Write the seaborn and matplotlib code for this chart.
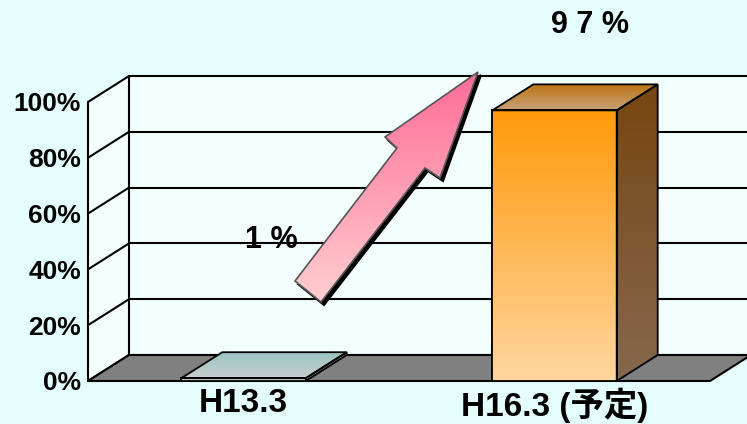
import numpy as np
import matplotlib
matplotlib.use("Agg")
import matplotlib.pyplot as plt
from matplotlib.patches import Polygon
from matplotlib.colors import LinearSegmentedColormap
import seaborn as sns

# ---- data ----
categories = ["H13.3", "H16.3 (予定)"]
values = [1, 97]
value_labels = ["1 %", "9 7 %"]
yticks = [0, 20, 40, 60, 80, 100]
ytick_labels = ["0%", "20%", "40%", "60%", "80%", "100%"]

sns.set_style("white")
plt.rcParams["font.family"] = ["Liberation Sans", "Noto Sans CJK JP", "DejaVu Sans"]
plt.rcParams["text.color"] = "black"
plt.rcParams["xtick.color"] = "black"
plt.rcParams["ytick.color"] = "black"

W, H = 747, 424
BG = "#E4FEFE"
WALL = "#F3FFFF"
fig = plt.figure(figsize=(W / 100, H / 100), dpi=100, facecolor=BG)

# pixel-coordinate layers
under = fig.add_axes([0, 0, 1, 1], zorder=0)
under.set_xlim(0, W); under.set_ylim(0, H); under.axis("off")
ax = fig.add_axes([88 / W, 43 / H, 622 / W, 279 / H], zorder=1)
ax.patch.set_alpha(0)
over = fig.add_axes([0, 0, 1, 1], zorder=2)
over.set_xlim(0, W); over.set_ylim(0, H); over.axis("off")

sns.barplot(x=categories, y=values, ax=ax, width=0.4, color="#ffffff",
            edgecolor="black", linewidth=1.3, zorder=3)
ax.set_xlim(-0.5, 1.5)
ax.set_ylim(0, 100)
for s in ax.spines.values():
    s.set_visible(False)
ax.set_yticks(yticks)
ax.set_yticklabels(ytick_labels, fontsize=19, fontweight="bold", color="black")
ax.tick_params(axis="y", length=0, pad=5)
ax.tick_params(axis="x", length=0, pad=5)
for t in ax.get_xticklabels():
    t.set_fontsize(24); t.set_fontweight("bold"); t.set_color("black")
ax.set_xlabel(""); ax.set_ylabel("")

D = np.array([41.0, 26.0])  # depth offset in pixels


def T(x, y):
    return ax.transData.transform((x, y))


def grad_poly(axis, verts, c_top, c_bot, z, ec="black", lw=1.3):
    verts = np.asarray(verts)
    poly = Polygon(verts, closed=True, facecolor="none", edgecolor=ec, lw=lw, zorder=z + 0.1)
    axis.add_patch(poly)
    cmap = LinearSegmentedColormap.from_list("g", [c_bot, c_top])
    x0, x1 = verts[:, 0].min(), verts[:, 0].max()
    y0, y1 = verts[:, 1].min(), verts[:, 1].max()
    grad = np.linspace(0, 1, 256).reshape(-1, 1)
    im = axis.imshow(grad, cmap=cmap, origin="lower", extent=(x0, x1, y0, y1),
                     aspect="auto", zorder=z, interpolation="bilinear")
    clip = Polygon(verts, closed=True, transform=axis.transData)
    im.set_clip_path(clip)
    return poly


# ---- walls, grid and floor ----
xl, xr = -0.5, 1.5
fl, fr = T(xl, 0), T(xr, 0)
tl = T(xl, 100)
under.add_patch(Polygon([fl + D, [W + 60, fl[1] + D[1]], [W + 60, tl[1] + D[1]], tl + D],
                        closed=True, facecolor=WALL, edgecolor="none", zorder=1))
under.add_patch(Polygon([fl, fl + D, tl + D, tl], closed=True, facecolor=WALL,
                        edgecolor="none", zorder=1))
for t in yticks:
    p = T(xl, t)
    under.plot([p[0], p[0] + D[0]], [p[1], p[1] + D[1]], color="black", lw=1.5, zorder=2)
    under.plot([p[0] + D[0], W + 60], [p[1] + D[1]] * 2, color="black", lw=1.5, zorder=2)
under.plot([fl[0], tl[0]], [fl[1], tl[1]], color="black", lw=1.5, zorder=2)
under.plot([fl[0] + D[0], tl[0] + D[0]], [fl[1] + D[1], tl[1] + D[1]], color="black", lw=1.5, zorder=2)
under.add_patch(Polygon([fl, fr, fr + D, fl + D], closed=True, facecolor="#808080",
                        edgecolor="black", lw=1.5, zorder=3))

# ---- bars: gradient front faces + 3D top/side ----
front_cols = [("#D6DEDE", "#D6DEDE"), ("#FF9A0A", "#FFD6A0")]
top_cols = [("#98C6C2", "#C8CECE"), ("#BF7414", "#C6A078")]
side_cols = [("#8FB0AE", "#9FB8B6"), ("#774510", "#86684E")]
for i, p in enumerate(ax.patches[:len(values)]):
    x0, w, h = p.get_x(), p.get_width(), p.get_height()
    ftl, ftr, fbr, fbl = T(x0, h), T(x0 + w, h), T(x0 + w, 0), T(x0, 0)
    p.set_facecolor("none")
    grad_poly(over, [fbl, fbr, ftr, ftl], front_cols[i][0], front_cols[i][1], 5)
    grad_poly(over, [ftl, ftr, ftr + D, ftl + D], top_cols[i][0], top_cols[i][1], 5)
    grad_poly(over, [fbr, fbr + D, ftr + D, ftr], side_cols[i][0], side_cols[i][1], 5)

# ---- decorative arrow ----
arrow = np.array([(295, 281), (321, 302), (425, 168), (440, 178), (478, 72),
                  (385, 137), (397, 148)], dtype=float)
arrow[:, 1] = H - arrow[:, 1]
over.add_patch(Polygon(arrow + np.array([3, -3]), closed=True, facecolor="black",
                       edgecolor="black", lw=1.5, zorder=6))
grad_poly(over, arrow, "#FF6C98", "#FFCFCF", 7, ec="#555555", lw=1.2)

# ---- value labels ----
lab_pos = [(271, 240), (590, 25)]
for (px, py), s in zip(lab_pos, value_labels):
    over.text(px, H - py, s, ha="center", va="center", fontsize=22, fontweight="bold",
              color="black", zorder=10)

fig.savefig("out.png", dpi=100, facecolor=BG)
